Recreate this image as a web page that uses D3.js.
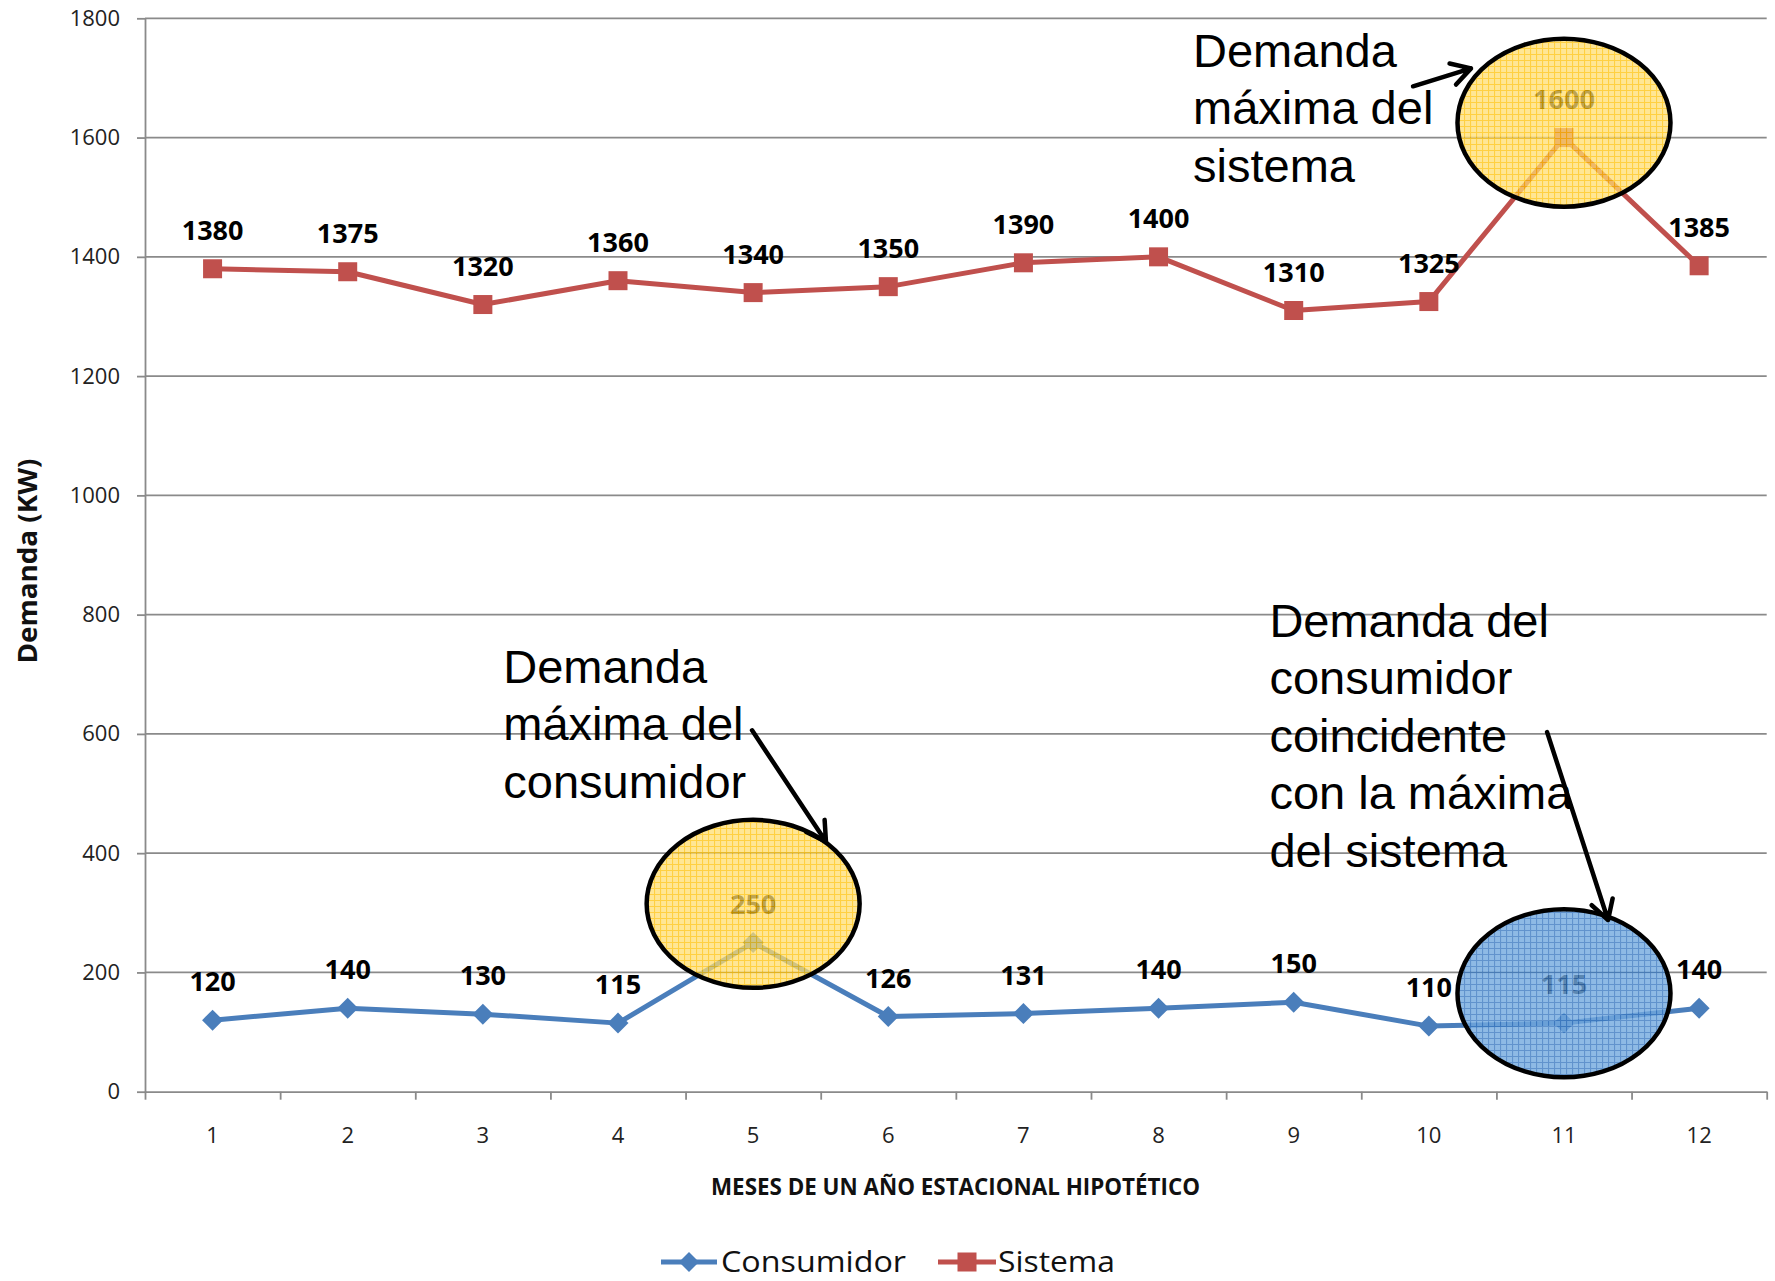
<!DOCTYPE html>
<html>
<head>
<meta charset="utf-8">
<script src="https://cdnjs.cloudflare.com/ajax/libs/d3/7.8.5/d3.min.js"></script>
<style>
  html, body { margin: 0; padding: 0; background: #fff; }
  svg { display: block; }
</style>
</head>
<body>
<svg id="chart" width="1775" height="1281"></svg>
<script>
// ---------------- DATA ----------------
const months = [1, 2, 3, 4, 5, 6, 7, 8, 9, 10, 11, 12];
const consumidor = [120, 140, 130, 115, 250, 126, 131, 140, 150, 110, 115, 140];
const sistema = [1380, 1375, 1320, 1360, 1340, 1350, 1390, 1400, 1310, 1325, 1600, 1385];
const yTicks = [0, 200, 400, 600, 800, 1000, 1200, 1400, 1600, 1800];
const seriesNames = ["Consumidor", "Sistema"];
const xTitle = "MESES DE UN AÑO ESTACIONAL HIPOTÉTICO";
const yTitle = "Demanda (KW)";

// annotations (anchored in data space: month, value)
const noteTexts = [
  { lines: ["Demanda", "máxima del", "sistema"], m: 8.255, v: 1719 },
  { lines: ["Demanda", "máxima del", "consumidor"], m: 3.151, v: 686 },
  { lines: ["Demanda del", "consumidor", "coincidente", "con la máxima", "del sistema"], m: 8.82, v: 763 }
];
const noteEllipses = [
  { m: 11, v: 1625, fill: "url(#patY)", op: 0.74 },
  { m: 5, v: 315, fill: "url(#patY)", op: 0.74 },
  { m: 11, v: 165, fill: "url(#patB)", op: 0.8 }
];
const noteArrows = [
  { m1: 9.883, v1: 1686, m2: 10.312, v2: 1716 },
  { m1: 4.992, v1: 606, m2: 5.539, v2: 419 },
  { m1: 10.875, v1: 603, m2: 11.326, v2: 288 }
];

// ---------------- LAYOUT ----------------
const plot = { left: 145, right: 1766.7, top: 18.3, bottom: 1091.7 };
const RED = "#C0504D", BLUE = "#4A7EBB", GRID = "#8a8a8a";

const svg = d3.select("#chart");

const defs = svg.append("defs");
const py = defs.append("pattern").attr("id", "patY").attr("width", 6).attr("height", 6)
  .attr("patternUnits", "userSpaceOnUse");
py.append("rect").attr("width", 6).attr("height", 6).attr("fill", "#FFDD70");
py.append("path").attr("d", "M0 0.5H6M0.5 0V6").attr("stroke", "#FFC000").attr("stroke-width", 1.2);
const pb = defs.append("pattern").attr("id", "patB").attr("width", 6).attr("height", 6)
  .attr("patternUnits", "userSpaceOnUse");
pb.append("rect").attr("width", 6).attr("height", 6).attr("fill", "#72A9DE");
pb.append("path").attr("d", "M0 0.5H6M0.5 0V6").attr("stroke", "#3A78C0").attr("stroke-width", 1.2);

const x = d3.scaleBand().domain(months).range([plot.left, plot.right]).padding(0);
const xc = m => x(m) + x.bandwidth() / 2;
const xLin = d3.scaleLinear().domain([0.5, 12.5]).range([plot.left, plot.right]);
const y = d3.scaleLinear().domain([0, 1800]).range([plot.bottom, plot.top]);

// gridlines
svg.append("g").selectAll("line").data(yTicks.filter(d => d > 0)).join("line")
  .attr("x1", plot.left).attr("x2", plot.right)
  .attr("y1", d => y(d)).attr("y2", d => y(d))
  .attr("stroke", GRID).attr("stroke-width", 1.8);

// y axis
const yAxis = svg.append("g").attr("transform", `translate(${plot.left},0)`)
  .call(d3.axisLeft(y).tickValues(yTicks).tickFormat(d3.format("d"))
    .tickSize(8).tickSizeOuter(0).tickPadding(17));
yAxis.select(".domain").attr("stroke", GRID).attr("stroke-width", 1.8);
yAxis.selectAll(".tick line").attr("stroke", GRID).attr("stroke-width", 1.8);
yAxis.selectAll(".tick text").attr("font-family", "Open Sans").attr("font-size", 22).attr("fill", "#222");

// x axis line + ticks at category boundaries
const xAxisG = svg.append("g").attr("transform", `translate(0,${plot.bottom})`)
  .call(d3.axisBottom(xLin).tickValues(d3.range(0.5, 12.6, 1)).tickSize(8).tickSizeOuter(0).tickFormat(""));
xAxisG.select(".domain").attr("stroke", GRID).attr("stroke-width", 1.8);
xAxisG.selectAll(".tick line").attr("stroke", GRID).attr("stroke-width", 1.8);

const xLabG = svg.append("g").attr("transform", `translate(0,${plot.bottom})`)
  .call(d3.axisBottom(x).tickSize(0).tickPadding(36));
xLabG.select(".domain").remove();
xLabG.selectAll(".tick text").attr("font-family", "Open Sans").attr("font-size", 22).attr("fill", "#222");

// axis titles
svg.append("text").attr("x", (711 + 1200) / 2).attr("y", 1195)
  .attr("text-anchor", "middle").attr("font-family", "Open Sans").attr("font-weight", 700)
  .attr("font-size", 23).attr("textLength", 489).attr("lengthAdjust", "spacingAndGlyphs")
  .attr("fill", "#111").text(xTitle);
svg.append("text").attr("transform", `translate(37,${(plot.top + plot.bottom) / 2 + 6}) rotate(-90)`)
  .attr("text-anchor", "middle").attr("font-family", "Open Sans").attr("font-weight", 700)
  .attr("font-size", 27).attr("textLength", 205).attr("lengthAdjust", "spacingAndGlyphs")
  .attr("fill", "#111").text(yTitle);

// series lines
const line = d3.line().x((d, i) => xc(months[i])).y(d => y(d));
svg.append("path").datum(consumidor).attr("d", line)
  .attr("fill", "none").attr("stroke", BLUE).attr("stroke-width", 5).attr("stroke-linejoin", "round");
svg.append("path").datum(sistema).attr("d", line)
  .attr("fill", "none").attr("stroke", RED).attr("stroke-width", 5).attr("stroke-linejoin", "round");

// markers
const diamond = r => `M0,${-r}L${r},0L0,${r}L${-r},0Z`;
svg.append("g").selectAll("path").data(consumidor).join("path")
  .attr("transform", (d, i) => `translate(${xc(months[i])},${y(d)})`)
  .attr("d", diamond(10.5)).attr("fill", BLUE);
svg.append("g").selectAll("rect").data(sistema).join("rect")
  .attr("x", (d, i) => xc(months[i]) - 9.5).attr("y", d => y(d) - 9.5)
  .attr("width", 19).attr("height", 19).attr("fill", RED);

// data labels
function labels(data) {
  svg.append("g").selectAll("text").data(data).join("text")
    .attr("x", (d, i) => xc(months[i])).attr("y", d => y(d) - 29)
    .attr("text-anchor", "middle").attr("font-family", "Open Sans").attr("font-weight", 700)
    .attr("font-size", 27).attr("fill", "#000").text(d => d);
}
labels(consumidor);
labels(sistema);

// ellipses
svg.append("g").selectAll("ellipse").data(noteEllipses).join("ellipse")
  .attr("cx", d => xLin(d.m)).attr("cy", d => y(d.v))
  .attr("rx", 106.5).attr("ry", 84)
  .attr("fill", d => d.fill).attr("fill-opacity", d => d.op)
  .attr("stroke", "#000").attr("stroke-width", 4.5);

// annotation text
noteTexts.forEach(n => {
  const t = svg.append("text").attr("font-family", "Liberation Sans, Arial, sans-serif")
    .attr("font-size", 47).attr("fill", "#000");
  n.lines.forEach((s, i) => {
    t.append("tspan").attr("x", xLin(n.m)).attr("y", y(n.v) + i * 57.5).text(s);
  });
});

// arrows with open heads
noteArrows.forEach(a => {
  const x1 = xLin(a.m1), y1 = y(a.v1), x2 = xLin(a.m2), y2 = y(a.v2);
  const ang = Math.atan2(y1 - y2, x1 - x2);
  const L = 22, sp = Math.PI / 6;
  const h1 = [x2 + L * Math.cos(ang + sp), y2 + L * Math.sin(ang + sp)];
  const h2 = [x2 + L * Math.cos(ang - sp), y2 + L * Math.sin(ang - sp)];
  svg.append("path")
    .attr("d", `M${x1},${y1}L${x2},${y2}M${h1[0]},${h1[1]}L${x2},${y2}L${h2[0]},${h2[1]}`)
    .attr("fill", "none").attr("stroke", "#000").attr("stroke-width", 4.5)
    .attr("stroke-linecap", "round").attr("stroke-linejoin", "round");
});

// legend
const lg = svg.append("g");
const legY = 1262;
// Consumidor
lg.append("line").attr("x1", 661).attr("x2", 717).attr("y1", legY).attr("y2", legY)
  .attr("stroke", BLUE).attr("stroke-width", 5);
lg.append("path").attr("transform", `translate(689,${legY})`).attr("d", diamond(10)).attr("fill", BLUE);
lg.append("text").attr("x", 721).attr("y", 1272).attr("font-family", "Open Sans")
  .attr("font-size", 30).attr("textLength", 185).attr("lengthAdjust", "spacingAndGlyphs")
  .attr("fill", "#111").text(seriesNames[0]);
// Sistema
lg.append("line").attr("x1", 938).attr("x2", 996).attr("y1", legY).attr("y2", legY)
  .attr("stroke", RED).attr("stroke-width", 5);
lg.append("rect").attr("x", 957.5).attr("y", legY - 9.5).attr("width", 19).attr("height", 19).attr("fill", RED);
lg.append("text").attr("x", 998).attr("y", 1272).attr("font-family", "Open Sans")
  .attr("font-size", 30).attr("textLength", 117).attr("lengthAdjust", "spacingAndGlyphs")
  .attr("fill", "#111").text(seriesNames[1]);
</script>
</body>
</html>
